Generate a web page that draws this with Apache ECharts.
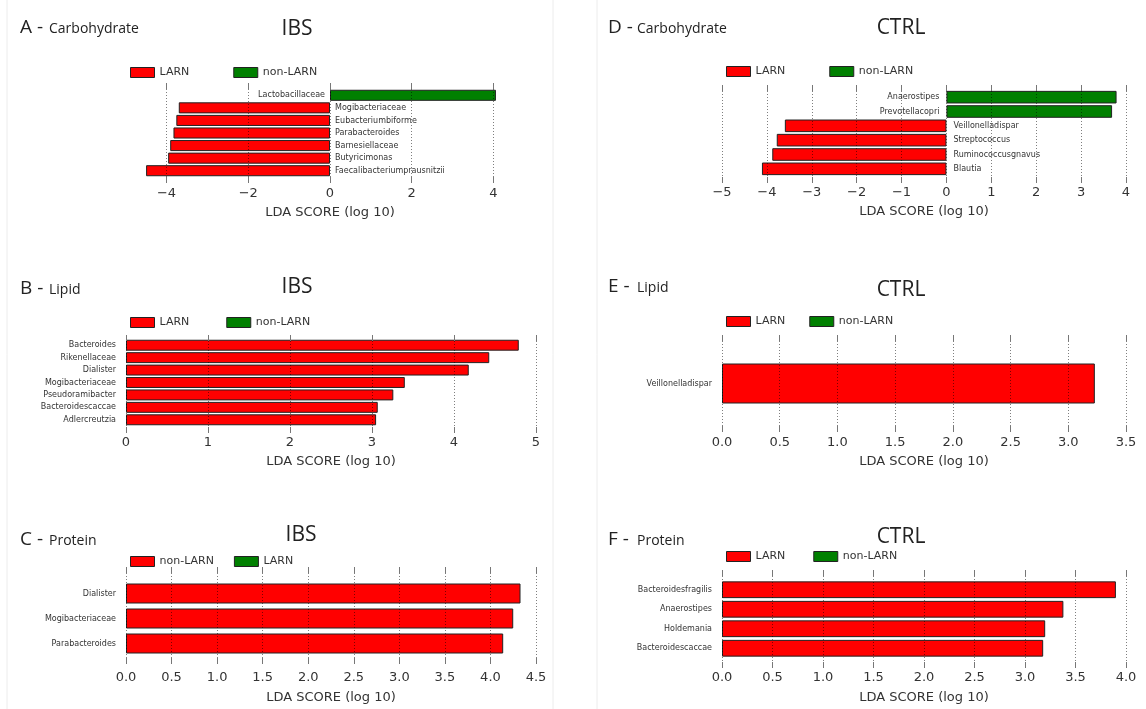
<!DOCTYPE html>
<html>
<head>
<meta charset="utf-8">
<script src="https://cdn.jsdelivr.net/npm/echarts@6/dist/echarts.min.js"></script>
<style>
  html, body { margin: 0; padding: 0; background: #fff; }
  #chart { width: 1146px; height: 709px; }
</style>
</head>
<body>
<div id="chart"></div>
<script>
// A - Carbohydrate (IBS)
const taxaA = ['Lactobacillaceae', 'Mogibacteriaceae', 'Eubacteriumbiforme', 'Parabacteroides',
  'Barnesiellaceae', 'Butyricimonas', 'Faecalibacteriumprausnitzii']
const scoresA = [4.06, -3.70, -3.76, -3.83, -3.91, -3.96, -4.50]
const classA = ['non-LARN', 'LARN', 'LARN', 'LARN', 'LARN', 'LARN', 'LARN']
const legendA = ['LARN', 'non-LARN']
const ticksA = [-4, -2, 0, 2, 4]

// B - Lipid (IBS)
const taxaB = ['Bacteroides', 'Rikenellaceae', 'Dialister', 'Mogibacteriaceae',
  'Pseudoramibacter', 'Bacteroidescaccae', 'Adlercreutzia']
const scoresB = [4.79, 4.43, 4.18, 3.40, 3.26, 3.07, 3.05]
const classB = ['LARN', 'LARN', 'LARN', 'LARN', 'LARN', 'LARN', 'LARN']
const legendB = ['LARN', 'non-LARN']
const ticksB = [0, 1, 2, 3, 4, 5]

// C - Protein (IBS)
const taxaC = ['Dialister', 'Mogibacteriaceae', 'Parabacteroides']
const scoresC = [4.33, 4.25, 4.14]
const classC = ['non-LARN', 'non-LARN', 'non-LARN']
const legendC = ['non-LARN', 'LARN']
const ticksC = [0, 0.5, 1, 1.5, 2, 2.5, 3, 3.5, 4, 4.5]

// D - Carbohydrate (CTRL)
const taxaD = ['Anaerostipes', 'Prevotellacopri', 'Veillonelladispar', 'Streptococcus',
  'Ruminococcusgnavus', 'Blautia']
const scoresD = [3.79, 3.69, -3.60, -3.78, -3.88, -4.11]
const classD = ['non-LARN', 'non-LARN', 'LARN', 'LARN', 'LARN', 'LARN']
const legendD = ['LARN', 'non-LARN']
const ticksD = [-5, -4, -3, -2, -1, 0, 1, 2, 3, 4]

// E - Lipid (CTRL)
const taxaE = ['Veillonelladispar']
const scoresE = [3.23]
const classE = ['LARN']
const legendE = ['LARN', 'non-LARN']
const ticksE = [0, 0.5, 1, 1.5, 2, 2.5, 3, 3.5]

// F - Protein (CTRL)
const taxaF = ['Bacteroidesfragilis', 'Anaerostipes', 'Holdemania', 'Bacteroidescaccae']
const scoresF = [3.90, 3.38, 3.20, 3.18]
const classF = ['LARN', 'LARN', 'LARN', 'LARN']
const legendF = ['LARN', 'non-LARN']
const ticksF = [0, 0.5, 1, 1.5, 2, 2.5, 3, 3.5, 4]

const RED = '#ff0000'
const GREEN = '#008000'
const MPL_FONT = 'DejaVu Sans'
const HEAD_FONT = 'Open Sans'

// frame = area of grid lines and ticks, bars = area the bar bands fill
const panels = [
  { letter: 'A', nutrient: 'Carbohydrate', group: 'IBS', taxa: taxaA, scores: scoresA, classes: classA,
    legend: legendA, ticks: ticksA, min: -4.6, max: 4.6, dec: 0, left: 142, width: 376,
    frame: { top: 83, height: 100 }, bars: { top: 89, height: 88 }, gap: '12%', labelDist: 5,
    headX: 20, headY: 28, groupX: 297, groupY: 29, legX: 125, legY: 62, legGap: 44,
    labelMargin: 4, nameGap: 23 },
  { letter: 'B', nutrient: 'Lipid', group: 'IBS', taxa: taxaB, scores: scoresB, classes: classB,
    legend: legendB, ticks: ticksB, min: 0, max: 5, dec: 0, left: 126, width: 410,
    frame: { top: 335, height: 98 }, bars: { top: 339, height: 87 }, gap: '12%', labelDist: 10,
    headX: 20, headY: 289, groupX: 297, groupY: 287, legX: 125, legY: 312, legGap: 37,
    labelMargin: 3, nameGap: 22 },
  { letter: 'C', nutrient: 'Protein', group: 'IBS', taxa: taxaC, scores: scoresC, classes: classC,
    legend: legendC, ticks: ticksC, min: 0, max: 4.5, dec: 1, left: 126, width: 410,
    frame: { top: 567, height: 97 }, bars: { top: 581, height: 75 }, gap: '20%', labelDist: 10,
    headX: 20, headY: 540, groupX: 301, groupY: 535, legX: 125, legY: 551, legGap: 20,
    labelMargin: 7, nameGap: 27 },
  { letter: 'D', nutrient: 'Carbohydrate', group: 'CTRL', taxa: taxaD, scores: scoresD, classes: classD,
    legend: legendD, ticks: ticksD, min: -5, max: 4, dec: 0, left: 722, width: 404,
    frame: { top: 85, height: 98 }, bars: { top: 90, height: 86 }, gap: '12%', labelDist: 7,
    headX: 608, headY: 28, groupX: 901, groupY: 28, legX: 721, legY: 61, legGap: 44,
    labelMargin: 3, nameGap: 22 },
  { letter: 'E', nutrient: 'Lipid', group: 'CTRL', taxa: taxaE, scores: scoresE, classes: classE,
    legend: legendE, ticks: ticksE, min: 0, max: 3.5, dec: 1, left: 722, width: 404,
    frame: { top: 335, height: 97 }, bars: { top: 335, height: 97 }, barWidth: 40, labelDist: 10,
    headX: 608, headY: 287, groupX: 901, groupY: 290, legX: 721, legY: 311, legGap: 24,
    labelMargin: 4, nameGap: 23 },
  { letter: 'F', nutrient: 'Protein', group: 'CTRL', taxa: taxaF, scores: scoresF, classes: classF,
    legend: legendF, ticks: ticksF, min: 0, max: 4, dec: 1, left: 722, width: 404,
    frame: { top: 570, height: 98 }, bars: { top: 580, height: 78 }, gap: '14%', labelDist: 10,
    headX: 608, headY: 540, groupX: 901, groupY: 537, legX: 721, legY: 546, legGap: 28,
    labelMargin: 3, nameGap: 23 },
]

function fmtTick(dec) {
  return v => v.toFixed(dec).replace('-', '\u2212')
}

function buildOption() {
  const grid = []
  const xAxis = []
  const yAxis = []
  const series = []
  const legend = []
  const graphic = []

  panels.forEach((p, i) => {
    const fi = i * 2
    const bi = i * 2 + 1
    grid.push({ left: p.left, width: p.width, top: p.frame.top, height: p.frame.height })
    grid.push({ left: p.left, width: p.width, top: p.bars.top, height: p.bars.height })

    const tick = { customValues: p.ticks, inside: true, length: 6, lineStyle: { color: '#777' } }
    // frame: bottom axis with labels and dotted grid lines drawn over the bars
    xAxis.push({
      type: 'value', gridIndex: fi, min: p.min, max: p.max, position: 'bottom', zlevel: 1,
      axisLine: { show: false },
      name: 'LDA SCORE (log 10)',
      nameLocation: 'middle',
      nameGap: p.nameGap,
      nameTextStyle: { fontFamily: MPL_FONT, fontSize: 13, color: '#333' },
      axisLabel: { customValues: p.ticks, formatter: fmtTick(p.dec), margin: p.labelMargin,
        fontFamily: MPL_FONT, fontSize: 13, color: '#333' },
      axisTick: tick,
      splitLine: { show: true, lineStyle: { color: 'rgba(0,0,0,0.5)', type: [1, 2], width: 1 } },
    })
    // frame: top axis, ticks only
    xAxis.push({
      type: 'value', gridIndex: fi, min: p.min, max: p.max, position: 'top', zlevel: 1,
      axisLine: { show: false },
      axisLabel: { show: false, customValues: p.ticks },
      axisTick: tick,
      splitLine: { show: false },
    })
    // bar area axis (hidden)
    xAxis.push({
      type: 'value', gridIndex: bi, min: p.min, max: p.max, show: false,
    })
    yAxis.push({ type: 'value', gridIndex: fi, show: false })
    yAxis.push({
      type: 'category', gridIndex: bi, data: p.taxa, inverse: true,
      axisLine: { show: false }, axisTick: { show: false }, axisLabel: { show: false },
    })

    p.legend.forEach((name, k) => {
      series.push({
        type: 'bar',
        name: name,
        xAxisIndex: i * 3 + 2,
        yAxisIndex: bi,
        barGap: '-100%',
        barCategoryGap: p.gap,
        barWidth: p.barWidth,
        itemStyle: { color: k === 0 ? RED : GREEN, borderColor: '#222', borderWidth: 1 },
        label: { show: true, formatter: '{b}', fontFamily: MPL_FONT, fontSize: 8,
          color: '#333', distance: p.labelDist },
        emphasis: { disabled: true },
        data: p.scores.map((v, j) => p.classes[j] === name
          ? { value: v, label: { position: v < 0 ? 'right' : 'left' } }
          : '-'),
      })
    })

    legend.push({
      left: p.legX, top: p.legY, orient: 'horizontal',
      icon: 'rect', itemWidth: 24, itemHeight: 10, itemGap: p.legGap,
      selectedMode: false,
      textStyle: { fontFamily: MPL_FONT, fontSize: 11, color: '#333' },
      data: p.legend.map((name, k) => ({
        name: name,
        itemStyle: { color: k === 0 ? RED : GREEN, borderColor: '#222', borderWidth: 1 },
      })),
    })

    graphic.push({
      type: 'text', x: p.headX, y: p.headY,
      style: { text: p.letter + ' -', font: '19px "' + HEAD_FONT + '"', fill: '#222',
        textVerticalAlign: 'middle' },
    })
    graphic.push({
      type: 'text', x: p.headX + 29, y: p.headY + 1,
      style: { text: p.nutrient, font: '14px "' + HEAD_FONT + '"', fill: '#222',
        textVerticalAlign: 'middle' },
    })
    graphic.push({
      type: 'text', x: p.groupX, y: p.groupY,
      style: { text: p.group, font: '21px "' + HEAD_FONT + '"', fill: '#222',
        textAlign: 'center', textVerticalAlign: 'middle' },
    })
  })

  // faint borders of the two source images
  ;[7, 553, 597].forEach(x => {
    graphic.push({ type: 'line', shape: { x1: x, y1: 0, x2: x, y2: 709 },
      style: { stroke: '#ececec', lineWidth: 1 } })
  })

  return {
    backgroundColor: '#fff',
    animation: false,
    grid, xAxis, yAxis, series, legend, graphic,
  }
}

const chart = echarts.init(document.getElementById('chart'))
chart.setOption(buildOption())
</script>
</body>
</html>
